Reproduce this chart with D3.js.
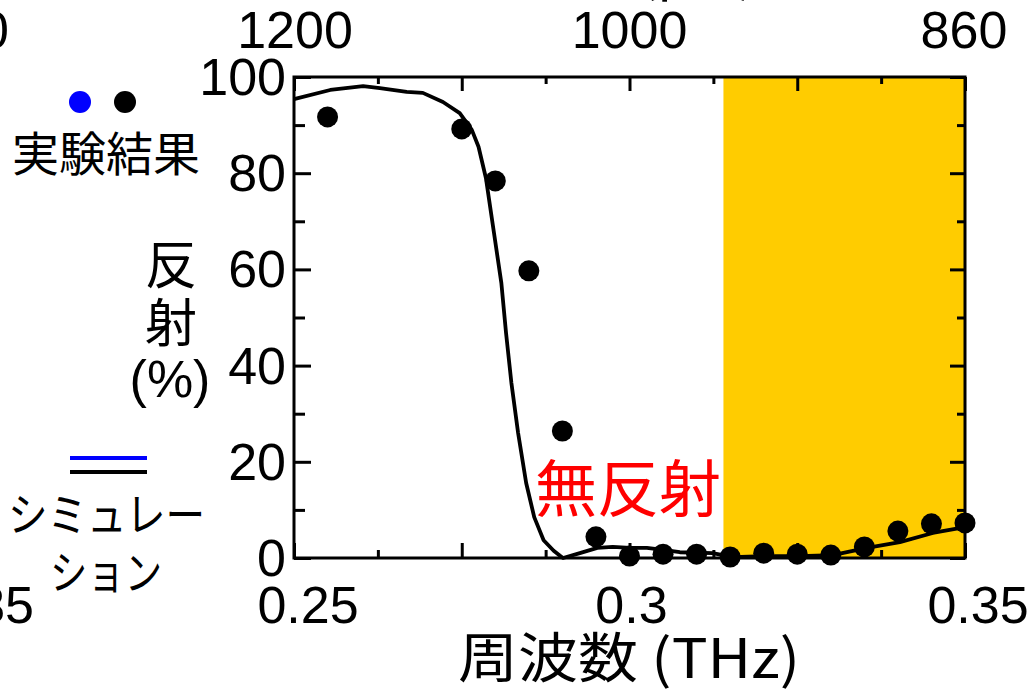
<!DOCTYPE html>
<html><head><meta charset="utf-8">
<script src="https://cdn.jsdelivr.net/npm/d3@7"></script>
<style>
html,body{margin:0;padding:0;background:#fff;}
svg{display:block;}
.num{font-family:"Liberation Sans",Arial,sans-serif;}
.cjk{font-family:"Noto Sans CJK JP","Noto Sans",sans-serif;}
</style></head>
<body>
<script>
// ---- data ----
const expFreq = [0.255,0.275,0.28,0.285,0.29,0.295,0.30,0.305,0.31,0.315,0.32,0.325,0.33,0.335,0.34,0.345,0.35];
const expRefl = [91.7,89.2,78.4,59.7,26.4,4.4,0.4,0.8,0.8,0.2,1.0,0.8,0.6,2.3,5.6,7.1,7.3];

const simFreq = [0.2500,0.2554,0.2603,0.2628,0.2668,0.2692,0.2722,0.2747,0.2765,0.2775,0.2786,0.2798,0.2809,0.2816,0.2824,0.2834,0.2846,0.2858,0.2872,0.2887,0.2896,0.2901,0.2926,0.2952,0.2975,0.3001,0.3026,0.3050,0.3075,0.3124,0.3154,0.3205,0.3254,0.3303,0.3354,0.3403,0.3452,0.3500];
const simRefl = [95.4,97.3,98.1,97.7,96.9,96.7,94.8,92.5,89.0,85.5,79.0,67.6,57.2,46.8,36.4,26.0,15.6,8.5,3.7,1.5,0.5,0.0,1.0,2.1,2.3,2.1,2.1,1.7,1.2,1.0,0.2,0.4,0.4,0.6,2.1,3.3,5.2,6.4];

const bandRange = [0.314, 0.35];          // yellow highlighted band (THz)
const xTickValues = [0.25, 0.3, 0.35];
const xTickLabels = ["0.25", "0.3", "0.35"];
const topTickLabels = ["1200", "1000", "860"]; // wavelength (μm) at the same positions
const xMajorTicks = [0.25,0.275,0.3,0.325,0.35];
const xMinorTicks = [0.2625,0.2875,0.3125,0.3375];
const yTickValues = [0,20,40,60,80,100];
const yMinorTicks = [10,30,50,70,90];

// ---- layout ----
const W = 1034, H = 689;
const L = 294, R = 965, T = 77, B = 558;
const svg = d3.select("body").append("svg").attr("width", W).attr("height", H);

const x = d3.scaleLinear().domain([0.25, 0.35]).range([L, R]);
const y = d3.scaleLinear().domain([0, 100]).range([B, T]);

// yellow band
svg.append("rect")
  .attr("x", x(bandRange[0])).attr("y", T)
  .attr("width", x(bandRange[1]) - x(bandRange[0])).attr("height", B - T)
  .attr("fill", "#ffcc00");

// ticks (inward)
function tickAxis(axisFn, scale, vals, size, tx, ty){
  const g = svg.append("g").attr("transform", `translate(${tx},${ty})`)
    .call(axisFn(scale).tickValues(vals).tickSize(size).tickFormat(""));
  g.select(".domain").remove();
  g.selectAll(".tick line").attr("stroke", "#000").attr("stroke-width", 3);
}
tickAxis(d3.axisBottom, x, xMajorTicks, -15, 0, B);
tickAxis(d3.axisBottom, x, xMinorTicks, -8, 0, B);
tickAxis(d3.axisTop, x, xMajorTicks, -14, 0, T);
tickAxis(d3.axisTop, x, xMinorTicks, -7, 0, T);
tickAxis(d3.axisLeft, y, yTickValues, -17, L, 0);
tickAxis(d3.axisLeft, y, yMinorTicks, -11, L, 0);
tickAxis(d3.axisRight, y, yTickValues, -15, R, 0);
tickAxis(d3.axisRight, y, yMinorTicks, -8, R, 0);

// frame
svg.append("rect").attr("x", L).attr("y", T).attr("width", R - L).attr("height", B - T)
  .attr("fill", "none").attr("stroke", "#000").attr("stroke-width", 3);

// simulation curve
const line = d3.line().x((d, i) => x(simFreq[i])).y(d => y(d));
svg.append("path").datum(simRefl).attr("d", line)
  .attr("fill", "none").attr("stroke", "#000").attr("stroke-width", 3.8)
  .attr("stroke-linejoin", "round");

// experiment points
svg.append("g").selectAll("circle").data(expRefl).join("circle")
  .attr("cx", (d, i) => x(expFreq[i])).attr("cy", d => y(d)).attr("r", 10.5).attr("fill", "#000");

// tick labels
const bottomShift = [14, 2, 13];
svg.append("g").selectAll("text").data(xTickValues).join("text")
  .attr("class", "num").attr("x", (d, i) => x(d) + bottomShift[i]).attr("y", 623)
  .attr("text-anchor", "middle").attr("font-size", 52).text((d, i) => xTickLabels[i]);
svg.append("g").selectAll("text").data(xTickValues).join("text")
  .attr("class", "num").attr("x", (d, i) => x(d) + [1, 0, -1][i]).attr("y", 48)
  .attr("text-anchor", "middle").attr("font-size", 52).text((d, i) => topTickLabels[i]);
svg.append("g").selectAll("text").data(yTickValues).join("text")
  .attr("class", "num").attr("x", 286).attr("y", d => y(d) + 18)
  .attr("text-anchor", "end").attr("font-size", 52).text(d => d);

// cut-off labels from neighbouring panel
svg.append("text").attr("class", "num").attr("x", 9).attr("y", 48)
  .attr("text-anchor", "end").attr("font-size", 52).text("860");
svg.append("text").attr("class", "num").attr("x", 34).attr("y", 623)
  .attr("text-anchor", "end").attr("font-size", 52).text("0.35");
// top axis title (mostly outside the frame)
svg.append("text").attr("class", "cjk").attr("x", 640).attr("y", -9)
  .attr("text-anchor", "middle").attr("font-size", 52).text("波長 (μm)");

// axis titles
svg.append("text").attr("class", "cjk").attr("x", 458).attr("y", 678)
  .attr("font-size", 54).attr("textLength", 342).attr("lengthAdjust", "spacingAndGlyphs").text("周波数 (THz)");
const yl = svg.append("g").attr("text-anchor", "middle");
yl.append("text").attr("class", "cjk").attr("x", 171).attr("y", 284).attr("font-size", 52).text("反");
yl.append("text").attr("class", "cjk").attr("x", 171).attr("y", 342).attr("font-size", 52).text("射");
yl.append("text").attr("class", "num").attr("x", 170).attr("y", 397).attr("font-size", 52).text("(%)");

// annotation
svg.append("text").attr("class", "cjk").attr("x", 535).attr("y", 512)
  .attr("font-size", 62).attr("fill", "#ff0000").text("無反射");

// legend
svg.append("circle").attr("cx", 80).attr("cy", 102).attr("r", 11).attr("fill", "#0000ff");
svg.append("circle").attr("cx", 125).attr("cy", 102).attr("r", 11).attr("fill", "#000");
svg.append("text").attr("class", "cjk").attr("x", 106).attr("y", 171)
  .attr("text-anchor", "middle").attr("font-size", 47).text("実験結果");
svg.append("line").attr("x1", 70).attr("x2", 147).attr("y1", 458).attr("y2", 458)
  .attr("stroke", "#0000ff").attr("stroke-width", 4);
svg.append("line").attr("x1", 70).attr("x2", 147).attr("y1", 472).attr("y2", 472)
  .attr("stroke", "#000").attr("stroke-width", 4);
svg.append("text").attr("class", "cjk").attr("x", 8).attr("y", 531)
  .attr("font-size", 46).attr("textLength", 197).attr("lengthAdjust", "spacingAndGlyphs").text("シミュレー");
svg.append("text").attr("class", "cjk").attr("x", 50).attr("y", 589)
  .attr("font-size", 46).attr("textLength", 112).attr("lengthAdjust", "spacingAndGlyphs").text("ション");
</script>
</body></html>
